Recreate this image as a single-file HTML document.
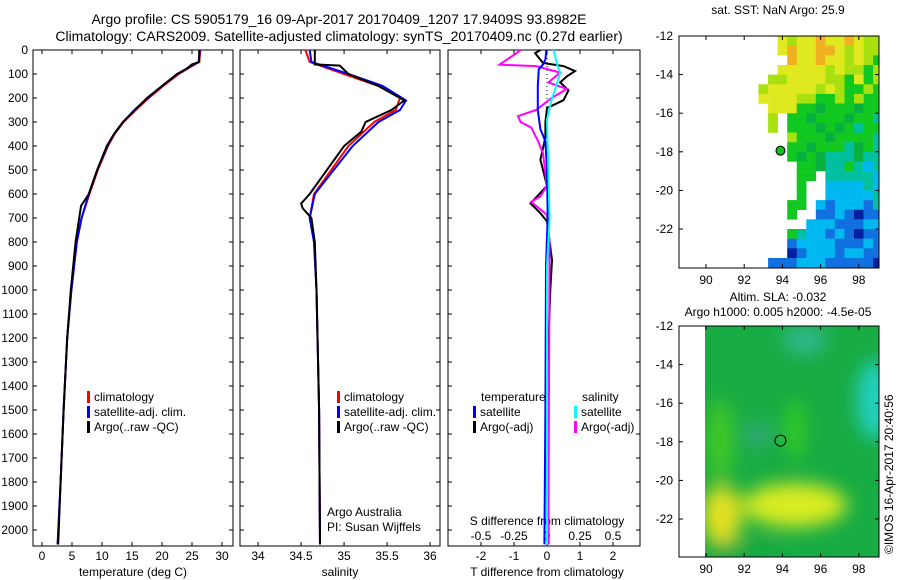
<!DOCTYPE html>
<html><head><meta charset="utf-8">
<style>
html,body{margin:0;padding:0;background:#fff;}
svg{display:block;font-family:"Liberation Sans",sans-serif;}
text{font-size:12px;fill:#000;}
</style></head>
<body>
<svg id="fig" width="900" height="580" viewBox="0 0 900 580" xmlns="http://www.w3.org/2000/svg">
<text x="339" y="24" text-anchor="middle" style="font-size:14px">Argo profile: CS 5905179_16 09-Apr-2017 20170409_1207 17.9409S 93.8982E</text>
<text x="339" y="41" text-anchor="middle" style="font-size:14px">Climatology: CARS2009. Satellite-adjusted climatology: synTS_20170409.nc (0.27d earlier)</text>
<text x="778" y="14" text-anchor="middle">sat. SST: NaN Argo: 25.9</text>
<text x="778" y="301" text-anchor="middle">Altim. SLA: -0.032</text>
<text x="778" y="316" text-anchor="middle">Argo h1000: 0.005 h2000: -4.5e-05</text>
<text transform="translate(893,554) rotate(-90)">©IMOS 16-Apr-2017 20:40:56</text>
<g id="g"></g>
</svg>
<script>
// ---- data ----
const depthTicks=[0,100,200,300,400,500,600,700,800,900,1000,1100,1200,1300,1400,1500,1600,1700,1800,1900,2000];
const tempTicks=[0,5,10,15,20,25,30];
const salTicks=[34,34.5,35,35.5,36];
const tDiffTicks=[-2,-1,0,1,2];
const sDiffTicks=[-0.5,-0.25,0,0.25,0.5];
const sDiffLabels=["-0.5","-0.25","0","0.25","0.5"];
const lonTicks=[90,92,94,96,98];
const latTicks=[-12,-14,-16,-18,-20,-22];

const tempArgo=[[0,26.2],[50,26.2],[60,25],[80,24],[100,22.5],[150,20],[200,17.5],[250,15.5],[300,13.5],[350,12],[400,10.8],[500,9.2],[600,7.8],[650,6.5],[700,6.2],[800,5.6],[1000,4.8],[1200,4.2],[1500,3.6],[1800,3.1],[2060,2.7]];
const tempClim=[[0,26.4],[50,26.2],[70,24.8],[100,22.8],[150,20.2],[200,17.8],[250,15.6],[300,13.6],[350,12.1],[400,11],[500,9.3],[600,7.9],[700,6.6],[800,5.8],[1000,4.9],[1200,4.2],[1500,3.6],[1800,3.1],[2060,2.6]];
const tempSat=[[0,26.3],[50,26.1],[70,24.6],[100,22.6],[150,20],[200,17.6],[250,15.4],[300,13.5],[350,12],[400,10.9],[500,9.2],[600,7.8],[700,6.6],[800,5.8],[1000,4.9],[1200,4.2],[1500,3.6],[1800,3.1],[2060,2.6]];
const salArgo=[[0,34.66],[60,34.66],[65,34.95],[100,35.05],[150,35.4],[210,35.7],[250,35.55],[300,35.25],[340,35.2],[400,35.0],[500,34.8],[600,34.6],[640,34.5],[660,34.52],[700,34.62],[800,34.66],[1000,34.68],[1500,34.71],[2060,34.72]];
const salClim=[[0,34.55],[50,34.6],[100,35.0],[150,35.4],[200,35.65],[250,35.6],[300,35.35],[400,35.05],[500,34.85],[600,34.65],[700,34.6],[800,34.65],[1000,34.68],[1500,34.71],[2060,34.72]];
const salSat=[[0,34.6],[50,34.62],[100,35.05],[150,35.45],[210,35.72],[250,35.65],[300,35.4],[400,35.1],[500,34.88],[600,34.66],[700,34.6],[800,34.65],[1000,34.68],[1500,34.71],[2060,34.72]];
const tDiffArgo=[[0,-0.2],[13,-0.36],[54,-0.12],[67,0.5],[88,0.85],[110,0.6],[135,0.4],[168,0.65],[209,0.5],[242,0],[300,-0.05],[364,-0.05],[457,-0.2],[566,0],[610,-0.3],[639,-0.5],[680,-0.2],[714,0],[875,0.15],[1000,0.1],[1200,0.05],[1500,0],[2060,0.05]];
const tDiffSat=[[0,-0.02],[40,-0.05],[60,-0.12],[80,-0.25],[150,-0.28],[250,-0.28],[330,-0.2],[380,-0.05],[500,0],[700,0.02],[900,-0.03],[1500,-0.05],[2060,-0.08]];
const sDiffArgo=[[0,-0.2],[13,-0.23],[61,-0.36],[67,-0.08],[94,0.1],[135,0.01],[162,0.15],[202,0.03],[249,-0.08],[276,-0.22],[300,-0.2],[323,-0.12],[377,-0.07],[431,-0.03],[566,0],[610,-0.05],[633,-0.12],[687,0],[800,0.02],[2060,0.01]];
const sDiffSat=[[0,0.05],[67,0.08],[94,0.1],[150,0.07],[215,0.03],[290,0],[500,0.01],[700,0.02],[900,0],[2060,0]];
const sstRows=[
"..........ylyyoyyoyll","..........yoyyooylyll","...........oyyoyylylg","..........yyyyylyllgl",
".........llyyyyllgygl","........lyyyyylylgglg","........yyyyllgglglgg",".........yyyggdgggdgg",
".........l.ggdgggdggt",".........l.gggdgdgtgg","...........lgggdggggt","...........ggdgggtdgt",
"...........gdgdtttdtt","............ggdttgtct","............gg.tttttc","............g..cccctc",
"............g..ccccct","...........gg.cbcccbt","...........g..bbcbnbb",".............cccbbbcc",
"...........gtccbcbnbb","...........bccccbbbcb","...........nbcccbccbb",".........bbbcccbbbbbn"];
const argoLon=93.8982, argoLat=-17.9409;

// ---- helpers ----
const NS="http://www.w3.org/2000/svg";
const G=document.getElementById('g');
function mk(tag,attrs,parent){const e=document.createElementNS(NS,tag);for(const k in attrs)e.setAttribute(k,attrs[k]);(parent||G).appendChild(e);return e;}
const Y0=50, YB=546;
const yD=d=>Y0+d*0.24;
const panels=[
 {x0:33,x1:233,name:'temperature-panel'},
 {x0:240,x1:440,name:'salinity-panel'},
 {x0:448,x1:640,name:'difference-panel'}];
const xT=v=>33+(v+1.5)*6;
const xS=v=>240+(v-33.79)*86;
const xTd=v=>547+v*33;
const xSd=v=>547+v*132;
function line(data,fx,color,name){
  const p=mk('polyline',{points:data.map(d=>fx(d[1]).toFixed(1)+','+yD(d[0]).toFixed(1)).join(' '),fill:'none',stroke:color,'stroke-width':2});
  
  
}
panels.forEach(p=>{
  const r=mk('rect',{x:p.x0,y:Y0,width:p.x1-p.x0,height:YB-Y0,fill:'none',stroke:'#000','stroke-width':1});
  
  
  depthTicks.forEach(d=>{mk('line',{x1:p.x0,x2:p.x0+4,y1:yD(d),y2:yD(d),stroke:'#000'});mk('line',{x1:p.x1,x2:p.x1-4,y1:yD(d),y2:yD(d),stroke:'#000'});});
});
depthTicks.forEach(d=>{const t=mk('text',{x:28,y:yD(d)+4,'text-anchor':'end'});t.textContent=d;
  
  });
function xticks(ticks,fx,y){ticks.forEach(v=>{const x=fx(v);
  mk('line',{x1:x,x2:x,y1:YB,y2:YB-4,stroke:'#000'});mk('line',{x1:x,x2:x,y1:Y0,y2:Y0+4,stroke:'#000'});
  const t=mk('text',{x:x,y:y,'text-anchor':'middle'});t.textContent=v;
  
  });}
xticks(tempTicks,xT,560);
xticks(salTicks,xS,560);
xticks(tDiffTicks,xTd,560);
sDiffTicks.forEach((v,i)=>{const x=xSd(v);mk('line',{x1:x,x2:x,y1:YB,y2:YB-4,stroke:'#000'});
  const t=mk('text',{x:x,y:540,'text-anchor':'middle'});t.textContent=sDiffLabels[i];
  
  });
function label(x,y,s,name,anchor){const t=mk('text',{x:x,y:y,'text-anchor':anchor||'start'});t.textContent=s;
  
  return t;}
label(133,576,'temperature (deg C)','x-axis-title-temperature','middle');
label(340,576,'salinity','x-axis-title-salinity','middle');
label(547,576,'T difference from climatology','x-axis-title-t-diff','middle');
label(547,525,'S difference from climatology','s-diff-axis-title','middle');
label(327,516,'Argo Australia','attribution-line-1');
label(327,531,'PI: Susan Wijffels','attribution-line-2');
mk('line',{x1:547,x2:547,y1:50,y2:250,stroke:'#000','stroke-dasharray':'1,3'});
line(tempClim,xT,'#ff0000','temp-climatology-line');
line(tempSat,xT,'#0000ff','temp-satellite-line');
line(tempArgo,xT,'#000000','temp-argo-line');
line(salClim,xS,'#ff0000','sal-climatology-line');
line(salSat,xS,'#0000ff','sal-satellite-line');
line(salArgo,xS,'#000000','sal-argo-line');
line(tDiffArgo,xTd,'#000000','t-diff-argo-line');
line(sDiffArgo,xSd,'#ff00ff','s-diff-argo-line');
line(tDiffSat,xTd,'#0000ff','t-diff-satellite-line');
line(sDiffSat,xSd,'#00ffff','s-diff-satellite-line');
function leg(x,y,color,s,name){mk('rect',{x:x,y:y-10,width:3,height:12,fill:color});label(x+7,y,s,name);}
[['climatology','#ff0000'],['satellite-adj. clim.','#0000ff'],['Argo(..raw -QC)','#000']].forEach((e,i)=>leg(87,401+i*15,e[1],e[0],'legend-entry-temp'));
[['climatology','#ff0000'],['satellite-adj. clim.','#0000ff'],['Argo(..raw -QC)','#000']].forEach((e,i)=>leg(337,401+i*15,e[1],e[0],'legend-entry-sal'));
label(481,401,'temperature','legend-heading-temperature');
label(582,401,'salinity','legend-heading-salinity');
leg(473,416,'#0000ff','satellite','legend-t-satellite');
leg(473,431,'#000','Argo(-adj)','legend-t-argo');
leg(574,416,'#00ffff','satellite','legend-s-satellite');
leg(574,431,'#ff00ff','Argo(-adj)','legend-s-argo');

// ---- maps ----
function mapAxes(y0,y1,name){
  const lx=v=>706+(v-90)*19.1, ly=v=>y0+(-12-v)*19.3;
  const r=mk('rect',{x:679,y:y0,width:200,height:y1-y0,fill:'none',stroke:'#000'});
  
  
  lonTicks.forEach(v=>{const x=lx(v);mk('line',{x1:x,x2:x,y1:y1,y2:y1-4,stroke:'#000'});mk('line',{x1:x,x2:x,y1:y0,y2:y0+4,stroke:'#000'});
    const t=mk('text',{x:x,y:y1+16,'text-anchor':'middle'});t.textContent=v;
    
    });
  latTicks.forEach(v=>{const y=ly(v);mk('line',{x1:679,x2:683,y1:y,y2:y,stroke:'#000'});mk('line',{x1:879,x2:875,y1:y,y2:y,stroke:'#000'});
    const t=mk('text',{x:673,y:y+4,'text-anchor':'end'});t.textContent=v;
    
    });
  return {lx,ly};
}
const colors={o:'#f0b020',y:'#e0e820',l:'#a8e010',g:'#10c820',d:'#08b040',t:'#00c0a0',c:'#00b8f0',b:'#1070e0',n:'#0020a0'};
const m1={lx:v=>706+(v-90)*19.1, ly:v=>36+(-12-v)*19.3};
const cg=mk('g',{});


mk('clipPath',{id:'c1'}).appendChild(Object.assign(document.createElementNS(NS,'rect'),{}));
sstRows.forEach((row,ri)=>{[...row].forEach((ch,ci)=>{if(ch==='.')return;
  const lon=88.75+ci*0.5, lat=-12-ri*0.5;
  const x=m1.lx(lon), y=m1.ly(lat);
  const w=Math.min(9.8,879-x);
  if(w<=0)return;
  const c=mk('rect',{x:x.toFixed(1),y:y.toFixed(1),width:w.toFixed(1),height:Math.min(9.9,268-y).toFixed(1),fill:colors[ch]},cg);
  
  });});
mapAxes(36,268,'sst-map');
const dot=mk('circle',{cx:m1.lx(argoLon),cy:m1.ly(argoLat),r:4.5,fill:'#10c020',stroke:'#000'});



// SLA map
const defs=mk('defs',{});
const f=mk('filter',{id:'bl',x:'-50%',y:'-50%',width:'200%',height:'200%'},defs);
mk('feGaussianBlur',{stdDeviation:9},f);
const cp=mk('clipPath',{id:'cp'},defs);
mk('rect',{x:705,y:326,width:174,height:231},cp);
const sg=mk('g',{'clip-path':'url(#cp)'});


mk('rect',{x:705,y:326,width:174,height:231,fill:'#18ac44'},sg);
const blobs=mk('g',{filter:'url(#bl)'},sg);
mk('ellipse',{cx:805,cy:340,rx:22,ry:14,fill:'#30b890'},blobs);
mk('ellipse',{cx:875,cy:400,rx:18,ry:40,fill:'#20d0c0'},blobs);
mk('ellipse',{cx:758,cy:435,rx:14,ry:12,fill:'#30a878'},blobs);
mk('ellipse',{cx:795,cy:430,rx:10,ry:30,fill:'#30cc20'},blobs);
mk('ellipse',{cx:720,cy:440,rx:14,ry:40,fill:'#40c828'},blobs);
mk('ellipse',{cx:795,cy:505,rx:52,ry:22,fill:'#d8ec20'},blobs);
mk('ellipse',{cx:722,cy:515,rx:20,ry:30,fill:'#e4e020'},blobs);
mk('ellipse',{cx:745,cy:550,rx:40,ry:8,fill:'#18a840'},blobs);
const m2=mapAxes(326,557,'sla-map');
const ring=mk('circle',{cx:m2.lx(argoLon),cy:m2.ly(argoLat),r:5.5,fill:'none',stroke:'#000'});


</script>
</body></html>
